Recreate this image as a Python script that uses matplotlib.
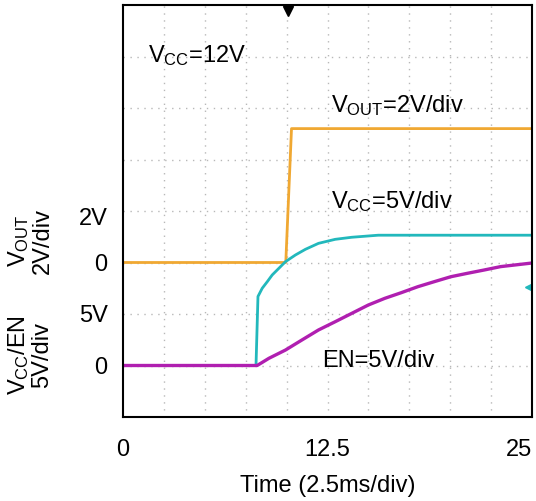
import matplotlib
matplotlib.use("Agg")
import matplotlib.pyplot as plt

plt.rcParams['font.family'] = ['Liberation Sans', 'DejaVu Sans']
plt.rcParams['mathtext.fontset'] = 'custom'
plt.rcParams['mathtext.rm'] = 'Liberation Sans'
plt.rcParams['mathtext.it'] = 'Liberation Sans'

# time in ms (2.5 ms/div, 10 div)
t_vout = [0, 9.95, 10.3, 25]
v_vout = [0, 0, 5.2, 5.2]          # V, 2 V/div

t_vcc = [0, 8.13, 8.25, 8.51, 8.82, 9.12, 9.53, 9.93, 10.54, 11.15, 11.95,
         12.97, 13.98, 15.6, 25]
v_vcc = [0, 0, 6.7, 7.5, 8.14, 8.79, 9.44, 10.08, 10.73, 11.28, 11.86,
         12.25, 12.45, 12.65, 12.65]   # 5 V/div

t_en = [0, 8.2, 8.92, 9.93, 10.94, 11.95, 12.97, 13.98, 14.99, 16.0, 17.01,
        18.02, 19.03, 20.04, 21.05, 22.07, 23.08, 25]
v_en = [0, 0, 0.7, 1.5, 2.48, 3.45, 4.25, 5.06, 5.87, 6.52, 7.07,
        7.65, 8.14, 8.62, 8.95, 9.27, 9.6, 9.95]             # 5 V/div

# channel offsets / scales (in divisions)
vout_zero, vout_scale = 3.0, 2.0
vcc_zero, vcc_scale = 1.0, 5.0

c_vout = '#f0a832'
c_vcc = '#22b8bc'
c_en = '#b01fb0'

fig = plt.figure(figsize=(5.36, 5.01), dpi=100)
ax = fig.add_axes([123/536, 1-417/501, 409/536, 412/501])
ax.set_xlim(0, 25)
ax.set_ylim(0, 8)

# scope grid
for i in range(1, 10):
    ax.axvline(i*2.5, color='#b8b8b8', lw=1, ls=(0, (1, 4)), zorder=0)
for j in range(1, 8):
    ax.axhline(j, color='#b8b8b8', lw=1, ls=(0, (1, 4)), zorder=0)

ax.plot(t_vout, [vout_zero + v/vout_scale for v in v_vout], color=c_vout, lw=2)
ax.plot(t_vcc, [vcc_zero + v/vcc_scale for v in v_vcc], color=c_vcc, lw=2)
ax.plot(t_en, [vcc_zero + v/vcc_scale for v in v_en], color=c_en, lw=2.4)

# trigger and level markers
ax.plot([10.1], [7.88], marker='v', color='black', ms=7, clip_on=False)
ax.plot([10.1, 10.1], [7.88, 8.0], color='black', lw=1.5)
ax.plot([24.85], [2.52], marker='<', color=c_vcc, ms=7)

fs = 17
ax.text(1.5, 6.89, r'$\mathregular{V_{CC}}$=12V', fontsize=fs, va='baseline')
ax.text(12.7, 5.92, r'$\mathregular{V_{OUT}}$=2V/div', fontsize=fs, va='baseline')
ax.text(12.7, 4.06, r'$\mathregular{V_{CC}}$=5V/div', fontsize=fs, va='baseline')
ax.text(12.2, 0.97, 'EN=5V/div', fontsize=fs, va='baseline')

ax.set_yticks([1, 2, 3, 3.9])
ax.set_yticklabels(['0', '5V', '0', '2V'], fontsize=fs)
ax.set_xticks([0, 12.5, 25])
ax.set_xticklabels(['0', '12.5', '25'], fontsize=fs)
ax.get_xticklabels()[-1].set_ha('right')
ax.tick_params(length=0)
ax.tick_params(axis='y', pad=11)
ax.tick_params(axis='x', pad=16)
ax.set_xlabel('Time (2.5ms/div)', fontsize=fs, labelpad=10)

for s in ax.spines.values():
    s.set_linewidth(1.5)

fig.text(30/536, 1-241/501, '$\\mathregular{V_{OUT}}$\n2V/div', rotation=90,
         fontsize=fs, ha='center', va='center', multialignment='center', linespacing=1.0)
fig.text(30/536, 1-355/501, '$\\mathregular{V_{CC}}$/EN\n5V/div', rotation=90,
         fontsize=fs, ha='center', va='center', multialignment='center', linespacing=1.0)

fig.savefig('out.png', dpi=100)
